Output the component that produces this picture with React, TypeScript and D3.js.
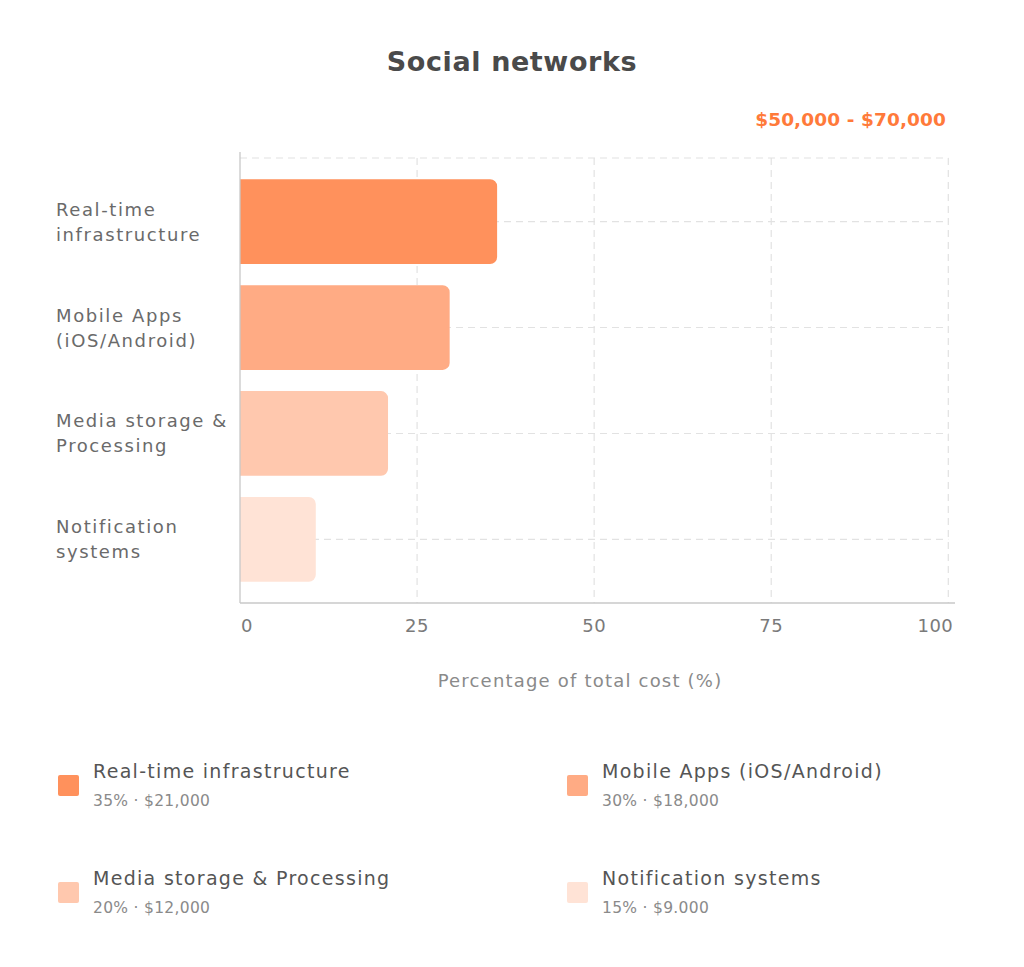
import * as d3 from "d3";
import { useEffect, useRef } from "react";

const categories = ["Real-time infrastructure", "Mobile Apps (iOS/Android)", "Media storage & Processing", "Notification systems"];
const categoryLines = [
    ["Real-time", "infrastructure"],
    ["Mobile Apps", "(iOS/Android)"],
    ["Media storage &", "Processing"],
    ["Notification", "systems"],
];
// bar lengths as drawn
const barValues = [36.3, 29.6, 20.9, 10.7];
// legend texts
const legendShares = ["35%", "30%", "20%", "15%"];
const legendCosts = ["$21,000", "$18,000", "$12,000", "$9.000"];
const colors = ["#ff915c", "#ffab84", "#ffc8ae", "#ffe3d6"];
const xTicks = [0, 25, 50, 75, 100];

const FONT = "'DejaVu Sans', sans-serif";

export default function App() {
    const svgRef = useRef<SVGSVGElement>(null);
    const width = 1024;
    const height = 967;

    useEffect(() => {
        if (svgRef.current) {
            drawChart();
        }
    }, [svgRef]);

    const drawChart = () => {
        const svg = d3.select(svgRef.current);
        svg.selectAll("*").remove();
        svg.style("font-family", FONT);

        const left = 240;
        const right = 948.3;
        const top = 158;
        const bottom = 603;

        const scaleX = d3.scaleLinear().domain([0, 100]).range([left, right]);
        const scaleY = d3.scaleBand<string>().domain(categories).range([top, bottom]).paddingInner(0.2).paddingOuter(0.2);

        // title
        svg.append("text")
            .attr("x", 512)
            .attr("y", 71)
            .attr("text-anchor", "middle")
            .attr("font-size", 27)
            .attr("font-weight", "bold")
            .attr("letter-spacing", 0.6)
            .attr("fill", "#4a4a4a")
            .text("Social networks");

        svg.append("text")
            .attr("x", 946)
            .attr("y", 126)
            .attr("text-anchor", "end")
            .attr("font-size", 18.5)
            .attr("font-weight", "bold")
            .attr("letter-spacing", 0.1)
            .attr("fill", "#ff7a3a")
            .text("$50,000 - $70,000");

        // grid
        const grid = svg.append("g").attr("stroke", "#e2e2e2").attr("stroke-width", 1.2).attr("stroke-dasharray", "7,5");
        grid.selectAll(".vgrid")
            .data(xTicks.slice(1))
            .enter()
            .append("line")
            .attr("x1", (d) => scaleX(d))
            .attr("x2", (d) => scaleX(d))
            .attr("y1", top)
            .attr("y2", bottom);
        grid.append("line").attr("x1", left).attr("x2", right).attr("y1", top).attr("y2", top);
        grid.selectAll(".hgrid")
            .data(categories)
            .enter()
            .append("line")
            .attr("x1", left)
            .attr("x2", right)
            .attr("y1", (d) => scaleY(d)! + scaleY.bandwidth() / 2)
            .attr("y2", (d) => scaleY(d)! + scaleY.bandwidth() / 2);

        // bars, rounded on the right side only
        const r = 7;
        svg.append("g")
            .selectAll("path")
            .data(categories)
            .enter()
            .append("path")
            .attr("fill", (d, i) => colors[i])
            .attr("d", (d, i) => {
                const x0 = scaleX(0);
                const x1 = scaleX(barValues[i]);
                const y0 = scaleY(d)!;
                const y1 = y0 + scaleY.bandwidth();
                const p = d3.path();
                p.moveTo(x0, y0);
                p.lineTo(x1 - r, y0);
                p.arcTo(x1, y0, x1, y0 + r, r);
                p.lineTo(x1, y1 - r);
                p.arcTo(x1, y1, x1 - r, y1, r);
                p.lineTo(x0, y1);
                p.closePath();
                return p.toString();
            });

        // axis lines
        svg.append("line").attr("x1", left).attr("x2", left).attr("y1", 152).attr("y2", bottom).attr("stroke", "#c8c8c8").attr("stroke-width", 1.3);
        svg.append("line").attr("x1", left).attr("x2", 955).attr("y1", bottom).attr("y2", bottom).attr("stroke", "#c8c8c8").attr("stroke-width", 1.3);

        // x tick labels
        svg.append("g")
            .selectAll("text")
            .data(xTicks)
            .enter()
            .append("text")
            .attr("x", (d, i) => (i === 0 ? scaleX(d) + 1 : i === xTicks.length - 1 ? scaleX(d) + 5 : scaleX(d)))
            .attr("y", 632)
            .attr("text-anchor", (d, i) => (i === 0 ? "start" : i === xTicks.length - 1 ? "end" : "middle"))
            .attr("font-size", 18)
            .attr("letter-spacing", 0.5)
            .attr("fill", "#7a7a7a")
            .text((d) => `${d}`);

        svg.append("text")
            .attr("x", 580)
            .attr("y", 687)
            .attr("text-anchor", "middle")
            .attr("font-size", 18)
            .attr("letter-spacing", 1.2)
            .attr("fill", "#8a8a8a")
            .text("Percentage of total cost (%)");

        // category labels
        const cat = svg.append("g")
            .selectAll("text")
            .data(categories)
            .enter()
            .append("text")
            .attr("font-size", 18)
            .attr("letter-spacing", 1.6)
            .attr("fill", "#6a6a6a");
        cat.each(function (d, i) {
            const c = scaleY(d)! + scaleY.bandwidth() / 2;
            const t = d3.select(this);
            categoryLines[i].forEach((line, j) => {
                t.append("tspan").attr("x", 56).attr("y", c - 6 + j * 25).text(line);
            });
        });

        // legend
        const legendX = [58, 567];
        const legendY = [775, 882];
        const legend = svg.append("g")
            .selectAll("g")
            .data(categories)
            .enter()
            .append("g")
            .attr("transform", (d, i) => `translate(${legendX[i % 2]},${legendY[Math.floor(i / 2)]})`);
        legend.append("rect")
            .attr("width", 21)
            .attr("height", 21)
            .attr("rx", 2)
            .attr("fill", (d, i) => colors[i]);
        legend.append("text")
            .attr("x", 35)
            .attr("y", 3)
            .attr("font-size", 19)
            .attr("letter-spacing", 1.3)
            .attr("fill", "#555555")
            .text((d) => d);
        legend.append("text")
            .attr("x", 35)
            .attr("y", 31)
            .attr("font-size", 15.5)
            .attr("letter-spacing", 0.3)
            .attr("fill", "#8a8a8a")
            .text((d, i) => `${legendShares[i]} · ${legendCosts[i]}`);
    };

    return <svg ref={svgRef} width={width} height={height} style={{ position: "absolute", left: 0, top: 0, background: "#fff" }} />;
}
